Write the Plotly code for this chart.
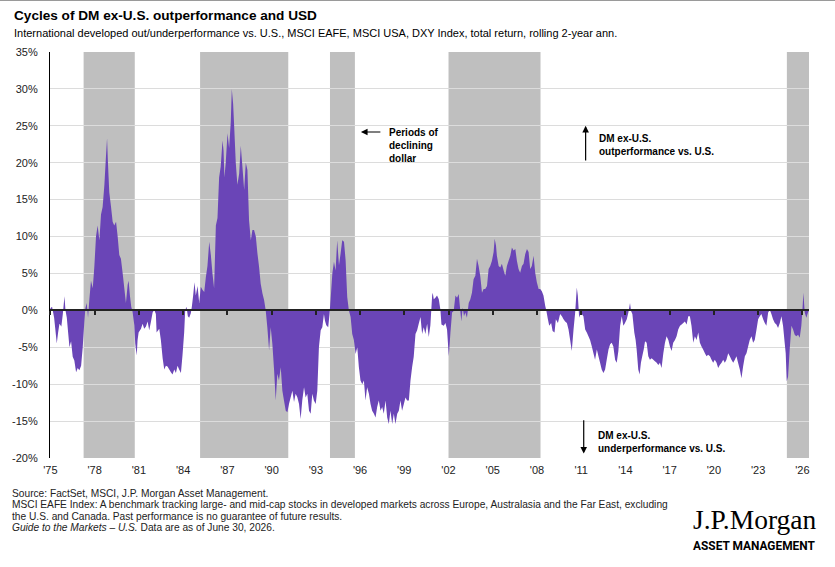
import plotly.graph_objects as go

# ---------------- data ----------------
years = [
    1975.00, 1975.11, 1975.25, 1975.43, 1975.52, 1975.61, 1975.74, 1975.84, 1975.95, 1976.02,
    1976.11, 1976.20, 1976.29, 1976.40, 1976.51, 1976.62, 1976.74, 1976.85, 1976.96, 1977.08,
    1977.19, 1977.30, 1977.37, 1977.46, 1977.55, 1977.64, 1977.75, 1977.87, 1977.98, 1978.09,
    1978.20, 1978.32, 1978.43, 1978.54, 1978.66, 1978.77, 1978.84, 1978.90, 1978.99, 1979.11,
    1979.22, 1979.33, 1979.45, 1979.56, 1979.67, 1979.78, 1979.90, 1980.01, 1980.12, 1980.24,
    1980.30, 1980.39, 1980.48, 1980.57, 1980.69, 1980.75, 1980.85, 1980.91, 1980.98, 1981.14,
    1981.25, 1981.36, 1981.48, 1981.59, 1981.70, 1981.82, 1981.93, 1982.04, 1982.15, 1982.20,
    1982.38, 1982.49, 1982.61, 1982.72, 1982.83, 1982.94, 1983.06, 1983.17, 1983.28, 1983.40,
    1983.51, 1983.62, 1983.73, 1983.85, 1983.96, 1984.07, 1984.14, 1984.23, 1984.32, 1984.41,
    1984.52, 1984.59, 1984.68, 1984.77, 1984.86, 1984.98, 1985.09, 1985.20, 1985.31, 1985.43,
    1985.54, 1985.65, 1985.77, 1985.88, 1985.99, 1986.10, 1986.22, 1986.33, 1986.44, 1986.55,
    1986.67, 1986.74, 1986.80, 1986.89, 1987.01, 1987.12, 1987.23, 1987.30, 1987.39, 1987.46,
    1987.57, 1987.68, 1987.80, 1987.91, 1988.02, 1988.14, 1988.25, 1988.36, 1988.47, 1988.59,
    1988.70, 1988.81, 1988.93, 1989.04, 1989.15, 1989.26, 1989.38, 1989.49, 1989.60, 1989.71,
    1989.83, 1989.94, 1990.05, 1990.17, 1990.28, 1990.39, 1990.50, 1990.62, 1990.73, 1990.84,
    1990.96, 1991.07, 1991.18, 1991.29, 1991.41, 1991.52, 1991.63, 1991.75, 1991.86, 1991.97,
    1992.08, 1992.20, 1992.31, 1992.42, 1992.54, 1992.65, 1992.76, 1992.87, 1992.99, 1993.10,
    1993.21, 1993.33, 1993.44, 1993.55, 1993.62, 1993.71, 1993.84, 1993.93, 1994.00, 1994.12,
    1994.23, 1994.34, 1994.45, 1994.57, 1994.68, 1994.79, 1994.91, 1995.02, 1995.13, 1995.24,
    1995.36, 1995.47, 1995.58, 1995.70, 1995.81, 1995.92, 1996.03, 1996.15, 1996.26, 1996.37,
    1996.48, 1996.60, 1996.71, 1996.82, 1996.94, 1997.05, 1997.16, 1997.27, 1997.39, 1997.50,
    1997.61, 1997.73, 1997.84, 1997.95, 1998.06, 1998.18, 1998.29, 1998.40, 1998.52, 1998.63,
    1998.74, 1998.85, 1998.97, 1999.08, 1999.19, 1999.31, 1999.42, 1999.53, 1999.64, 1999.76,
    1999.87, 1999.98, 2000.10, 2000.21, 2000.32, 2000.43, 2000.55, 2000.66, 2000.77, 2000.89,
    2000.93, 2001.00, 2001.11, 2001.22, 2001.34, 2001.45, 2001.52, 2001.68, 2001.79, 2001.90,
    2002.02, 2002.13, 2002.24, 2002.35, 2002.47, 2002.58, 2002.69, 2002.81, 2002.87, 2002.96,
    2003.05, 2003.14, 2003.25, 2003.37, 2003.48, 2003.59, 2003.70, 2003.82, 2003.93, 2004.04,
    2004.15, 2004.27, 2004.38, 2004.49, 2004.61, 2004.72, 2004.83, 2004.94, 2005.06, 2005.13,
    2005.22, 2005.28, 2005.40, 2005.51, 2005.62, 2005.74, 2005.85, 2005.96, 2006.07, 2006.19,
    2006.30, 2006.41, 2006.53, 2006.64, 2006.75, 2006.86, 2006.98, 2007.09, 2007.20, 2007.32,
    2007.43, 2007.54, 2007.65, 2007.77, 2007.88, 2007.99, 2008.11, 2008.22, 2008.33, 2008.44,
    2008.56, 2008.63, 2008.74, 2008.83, 2008.96, 2009.06, 2009.19, 2009.28, 2009.42, 2009.57,
    2009.69, 2009.80, 2009.91, 2010.03, 2010.14, 2010.25, 2010.36, 2010.48, 2010.59, 2010.70,
    2010.77, 2010.86, 2010.97, 2011.04, 2011.15, 2011.27, 2011.38, 2011.49, 2011.60, 2011.72,
    2011.83, 2011.94, 2012.06, 2012.17, 2012.28, 2012.39, 2012.51, 2012.62, 2012.73, 2012.85,
    2012.96, 2013.07, 2013.18, 2013.30, 2013.41, 2013.52, 2013.64, 2013.75, 2013.86, 2013.97,
    2014.09, 2014.20, 2014.31, 2014.38, 2014.47, 2014.60, 2014.69, 2014.76, 2014.87, 2014.96,
    2015.05, 2015.14, 2015.24, 2015.33, 2015.44, 2015.55, 2015.66, 2015.78, 2015.89, 2016.00,
    2016.12, 2016.23, 2016.34, 2016.45, 2016.57, 2016.68, 2016.79, 2016.91, 2017.02, 2017.13,
    2017.24, 2017.36, 2017.47, 2017.58, 2017.70, 2017.81, 2017.92, 2018.03, 2018.15, 2018.26,
    2018.37, 2018.48, 2018.60, 2018.71, 2018.82, 2018.94, 2019.05, 2019.16, 2019.27, 2019.39,
    2019.50, 2019.61, 2019.73, 2019.84, 2019.95, 2020.06, 2020.18, 2020.29, 2020.40, 2020.52,
    2020.63, 2020.74, 2020.85, 2020.97, 2021.08, 2021.19, 2021.31, 2021.42, 2021.53, 2021.64,
    2021.76, 2021.87, 2021.98, 2022.10, 2022.21, 2022.32, 2022.43, 2022.55, 2022.66, 2022.77,
    2022.89, 2023.00, 2023.11, 2023.22, 2023.34, 2023.45, 2023.56, 2023.68, 2023.79, 2023.90,
    2024.01, 2024.13, 2024.24, 2024.35, 2024.47, 2024.58, 2024.69, 2024.80, 2024.87, 2024.94,
    2025.03, 2025.14, 2025.26, 2025.37, 2025.48, 2025.59, 2025.71, 2025.82, 2025.93, 2026.00,
    2026.07, 2026.16, 2026.27, 2026.38, 2026.45,
]

rel_perf = [
    0.3, 0.5, -1.0, -4.5, -3.0, -1.8, -2.2, -0.5, 1.9, 0.0,
    -1.0, -3.0, -5.0, -4.2, -6.3, -6.8, -8.4, -7.8, -8.1, -7.5,
    -5.0, -1.5, 0.3, 1.0, -1.0, 1.5, 4.0, 3.0, 6.0, 10.0,
    11.5, 9.5, 13.0, 14.0, 17.0, 21.0, 23.3, 20.0, 16.0, 14.0,
    12.0, 11.5, 12.0, 10.0, 7.5, 7.0, 5.0, 3.0, 1.0, 3.5,
    4.0, 2.0, 0.5, -0.2, -2.0, -4.5, -6.1, -4.0, -3.0, -2.5,
    -1.8, -2.5, -2.2, -1.5, -2.7, -1.5, -0.3, 0.1, -0.5, -3.0,
    -2.5, -4.0, -6.5, -8.0, -7.5, -7.6, -8.0, -8.4, -8.7, -8.0,
    -8.5, -7.5, -8.0, -8.5, -6.0, -3.0, 0.0, 0.5, -0.8, -1.0,
    -0.4, 0.5, 2.0, 3.8, 2.0, 3.3, 1.0, 3.2, 2.8, 2.5,
    4.5, 6.0, 9.3, 7.5, 5.0, 3.0, 11.5, 12.5, 18.0, 19.5,
    23.0, 21.7, 18.0, 20.0, 24.0, 22.0, 25.5, 30.0, 28.0, 25.0,
    20.0, 17.0, 18.5, 22.3, 19.5, 16.3, 20.0, 19.0, 12.2, 9.5,
    10.9, 10.9, 10.0, 7.7, 5.9, 3.6, 2.3, 1.4, 0.0, -2.3,
    -5.4, -2.3, -4.5, -8.1, -12.2, -8.6, -9.5, -7.7, -10.9, -12.2,
    -13.6, -13.8, -12.7, -11.8, -10.9, -12.4, -11.3, -11.8, -12.7, -14.7,
    -12.2, -10.4, -11.8, -11.3, -13.6, -14.0, -11.3, -12.2, -12.7, -10.9,
    -5.0, -2.7, -2.3, -0.5, -1.4, -2.0, -2.3, -0.5, 1.4, 5.0,
    6.6, 5.4, 9.5, 6.1, 7.7, 9.5, 9.3, 6.8, 1.8, 0.0,
    -0.9, -3.2, -4.0, -5.9, -5.0, -7.7, -9.5, -10.0, -9.5, -12.2,
    -10.4, -11.3, -12.7, -13.6, -14.0, -14.5, -13.1, -12.2, -13.6, -13.1,
    -14.0, -12.2, -14.5, -15.4, -13.6, -15.4, -14.0, -15.4, -14.0, -13.6,
    -12.2, -13.6, -12.7, -11.8, -12.2, -12.2, -9.5, -7.7, -6.3, -3.2,
    -2.7, -1.8, -0.9, -3.2, -2.3, -3.2, -1.8, -3.6, -2.0, 2.0,
    2.4, 1.5, 1.7, 2.0, 1.5, 0.1, -1.9, -2.1, -1.7, -2.6,
    -6.2, -3.0, -0.3, -0.1, 2.0, 1.7, 2.2, -0.3, -1.5, 0.4,
    -0.8, -0.3, -1.0, 1.0, 1.5, 2.4, 4.2, 4.7, 7.0, 6.0,
    4.7, 2.4, 2.9, 2.9, 3.3, 5.6, 6.0, 6.7, 7.9, 9.7,
    8.8, 7.4, 6.0, 5.8, 6.3, 5.4, 4.7, 6.0, 6.7, 7.4,
    8.5, 8.1, 8.3, 6.7, 5.6, 5.1, 6.0, 6.3, 7.6, 8.3,
    7.9, 5.6, 6.0, 7.4, 5.1, 3.8, 2.9, 2.9, 2.6, 2.0,
    0.6, 0.0, -1.2, -2.1, -1.7, -2.8, -3.0, -1.2, -1.7, -0.5,
    -0.8, -1.2, -1.5, -1.7, -2.6, -4.0, -5.5, -2.6, -0.3, 3.1,
    2.0, -1.0, -0.3, -0.5, -0.8, -2.6, -3.0, -3.5, -4.0, -4.9,
    -5.8, -6.7, -5.3, -6.2, -7.1, -8.0, -8.5, -8.0, -6.7, -5.3,
    -4.6, -4.4, -4.9, -6.7, -7.1, -5.5, -2.1, -0.8, -2.1, -1.7,
    -1.2, -0.3, 1.0, -0.1, -0.5, -3.0, -4.0, -5.3, -8.0, -8.7,
    -7.1, -6.2, -5.3, -4.2, -4.4, -6.2, -6.7, -6.5, -6.7, -6.9,
    -7.1, -7.4, -7.1, -7.8, -5.8, -4.4, -3.5, -4.0, -4.9, -5.5,
    -4.4, -4.0, -3.5, -2.6, -2.1, -1.9, -1.7, -1.5, -1.9, -0.8,
    -0.8, -2.1, -4.4, -3.5, -4.0, -3.0, -4.4, -4.9, -5.3, -5.8,
    -6.2, -6.0, -6.2, -6.7, -7.1, -6.7, -7.1, -7.8, -7.4, -7.1,
    -6.7, -7.1, -6.7, -5.8, -6.2, -6.7, -7.1, -6.7, -6.2, -7.1,
    -8.0, -9.2, -7.6, -6.2, -5.8, -4.9, -4.0, -3.5, -4.4, -4.0,
    -2.6, -1.2, -0.8, -0.5, -1.2, -1.7, -2.1, -0.3, 0.1, -0.5,
    -1.2, -1.7, -1.9, -2.4, -1.7, -0.8, -2.1, -4.4, -5.8, -9.6,
    -9.0, -5.3, -2.1, -2.6, -3.3, -3.5, -3.3, -3.7, -2.1, -0.1,
    2.4, -0.3, -1.0, -0.3, 0.0,
]

# periods of declining dollar (start, end in decimal years)
usd_decline_start = [1977.25, 1985.15, 1993.96, 2002.00, 2024.95]
usd_decline_end = [1980.72, 1991.13, 1995.65, 2008.24, 2026.45]

x_tick_years = [1975, 1978, 1981, 1984, 1987, 1990, 1993, 1996, 1999,
                2002, 2005, 2008, 2011, 2014, 2017, 2020, 2023, 2026]
x_tick_labels = ["'" + str(y)[2:] for y in x_tick_years]
y_tick_vals = [35, 30, 25, 20, 15, 10, 5, 0, -5, -10, -15, -20]
y_tick_labels = [f"{v}%" for v in y_tick_vals]

X_RANGE = [1974.97, 2026.45]
Y_RANGE = [-20, 35]

# ---------------- layout geometry ----------------
W, H = 835, 567
L, R, T, B = 50, 26, 52, 109
PW, PH = W - L - R, H - T - B


def px(x):
    return (x - L) / PW


def py(y):
    return (H - B - y) / PH


SANS = "Liberation Sans, Arial, sans-serif"
PURPLE = "#6a45b7"
GREY_BAND = "#bfbfbf"

fig = go.Figure()

fig.add_trace(go.Scatter(
    x=years, y=rel_perf, mode="none", fill="tozeroy",
    fillcolor=PURPLE, hoverinfo="skip", showlegend=False,
))
# invisible helper trace so the zero-line axis (x2) is drawn
fig.add_trace(go.Scatter(
    x=years, y=rel_perf, xaxis="x2", mode="lines",
    line=dict(width=0, color="rgba(0,0,0,0)"), hoverinfo="skip", showlegend=False,
))

shapes = []
for s, e in zip(usd_decline_start, usd_decline_end):
    shapes.append(dict(type="rect", xref="x", yref="paper", x0=s, x1=e, y0=0, y1=1,
                       fillcolor=GREY_BAND, line=dict(width=0), layer="between"))
# thin page border at the top
shapes.append(dict(type="line", xref="paper", yref="paper", x0=px(0), x1=px(W),
                   y0=py(0.5), y1=py(0.5), line=dict(color="#9a9a9a", width=1)))

annotations = []
# title & subtitle
annotations.append(dict(xref="paper", yref="paper", x=px(12), y=py(15), xanchor="left",
                        yanchor="middle", showarrow=False,
                        text="<b>Cycles of DM ex-U.S. outperformance and USD</b>",
                        font=dict(family=SANS, size=13.6, color="#000")))
annotations.append(dict(xref="paper", yref="paper", x=px(12), y=py(33), xanchor="left",
                        yanchor="middle", showarrow=False,
                        text="International developed out/underperformance vs. U.S., MSCI EAFE, "
                             "MSCI USA, DXY Index, total return, rolling 2-year ann.",
                        font=dict(family=SANS, size=11, color="#000")))

# in-chart annotations
ann_font = dict(family=SANS, size=10, color="#000")
annotations.append(dict(x=1996.06, y=24.16, ax=1997.48, ay=24.16, xref="x", yref="y",
                        axref="x", ayref="y", text="", showarrow=True, arrowhead=2,
                        arrowsize=1.1, arrowwidth=1.2, arrowcolor="#000"))
annotations.append(dict(x=1997.8, y=22.4, xref="x", yref="y", xanchor="left", yanchor="middle",
                        align="left", showarrow=False,
                        text="<b>Periods of<br>declining<br>dollar</b>", font=ann_font))
annotations.append(dict(x=2011.3, y=25.0, ax=2011.3, ay=20.1, xref="x", yref="y",
                        axref="x", ayref="y", text="", showarrow=True, arrowhead=2,
                        arrowsize=1.1, arrowwidth=1.2, arrowcolor="#000"))
annotations.append(dict(x=2012.08, y=22.4, xref="x", yref="y", xanchor="left", yanchor="middle",
                        align="left", showarrow=False,
                        text="<b>DM ex-U.S.<br>outperformance vs. U.S.</b>", font=ann_font))
annotations.append(dict(x=2011.17, y=-19.4, ax=2011.17, ay=-14.67, xref="x", yref="y",
                        axref="x", ayref="y", text="", showarrow=True, arrowhead=2,
                        arrowsize=1.1, arrowwidth=1.2, arrowcolor="#000"))
annotations.append(dict(x=2012.0, y=-17.85, xref="x", yref="y", xanchor="left", yanchor="middle",
                        align="left", showarrow=False,
                        text="<b>DM ex-U.S.<br>underperformance vs. U.S.</b>", font=ann_font))

# footer
foot_font = dict(family=SANS, size=10.2, color="#222")
footer_lines = [
    "Source: FactSet, MSCI, J.P. Morgan Asset Management.",
    "MSCI EAFE Index: A benchmark tracking large- and mid-cap stocks in developed markets across "
    "Europe, Australasia and the Far East, excluding",
    "the U.S. and Canada. Past performance is no guarantee of future results.",
    "<i>Guide to the Markets – U.S.</i> Data are as of June 30, 2026.",
]
for i, line in enumerate(footer_lines):
    annotations.append(dict(xref="paper", yref="paper", x=px(10), y=py(493 + i * 11.6),
                            xanchor="left", yanchor="middle", showarrow=False,
                            text=line, font=foot_font))

# logo
annotations.append(dict(xref="paper", yref="paper", x=px(691), y=py(519), xanchor="left",
                        yanchor="middle", showarrow=False, text="J.P.Morgan",
                        font=dict(family="Liberation Serif, Times New Roman, serif",
                                  size=27.5, color="#000")))
annotations.append(dict(xref="paper", yref="paper", x=px(691), y=py(545.5), xanchor="left",
                        yanchor="middle", showarrow=False, text="<b>ASSET MANAGEMENT</b>",
                        font=dict(family="Roboto, sans-serif", size=11.9, color="#000")))

fig.update_layout(
    width=W, height=H,
    margin=dict(l=L, r=R, t=T, b=B, pad=0),
    paper_bgcolor="white", plot_bgcolor="white",
    showlegend=False,
    shapes=shapes,
    annotations=annotations,
    xaxis=dict(range=X_RANGE, tickmode="array", tickvals=x_tick_years, ticktext=x_tick_labels,
               showgrid=False, zeroline=False, showline=False, ticks="",
               ticklabelstandoff=4,
               tickfont=dict(family=SANS, size=11, color="#222"), fixedrange=True),
    xaxis2=dict(range=X_RANGE, overlaying="x", anchor="free", position=(0 - Y_RANGE[0]) / (Y_RANGE[1] - Y_RANGE[0]),
                side="bottom", tickmode="array", tickvals=x_tick_years, showticklabels=False,
                ticks="outside", ticklen=4, tickwidth=1.5, tickcolor="#222",
                showline=True, linecolor="#222", linewidth=2, showgrid=False, zeroline=False,
                layer="above traces"),
    yaxis=dict(range=Y_RANGE, tickmode="array", tickvals=y_tick_vals, ticktext=y_tick_labels,
               showgrid=True, gridcolor="#dcdcdc", gridwidth=1, zeroline=False,
               showline=True, linecolor="#000", linewidth=1.2, ticks="",
               ticklabelstandoff=9,
               tickfont=dict(family=SANS, size=11, color="#222"), fixedrange=True),
)

fig.write_html("out.html")
